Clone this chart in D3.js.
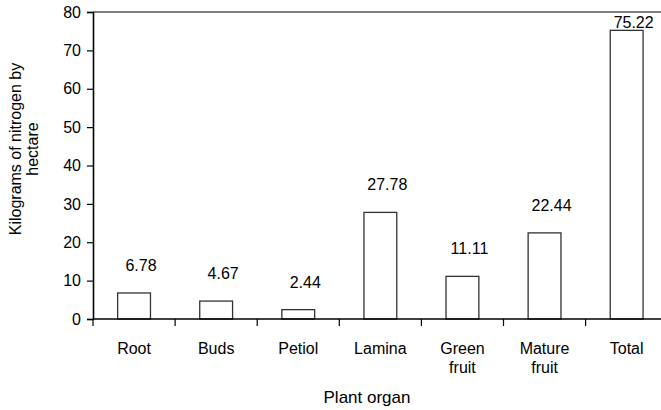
<!DOCTYPE html>
<html>
<head>
<meta charset="utf-8">
<script src="https://cdn.jsdelivr.net/npm/d3@7"></script>
<style>
  html, body { margin: 0; padding: 0; background: #fff; }
  svg { display: block; font-family: Arial, "Liberation Sans", sans-serif; }
</style>
</head>
<body>
<svg id="chart" width="661" height="410"></svg>
<script>
const categories = ["Root", "Buds", "Petiol", "Lamina", "Green fruit", "Mature fruit", "Total"];
const categoryLines = [["Root"], ["Buds"], ["Petiol"], ["Lamina"], ["Green", "fruit"], ["Mature", "fruit"], ["Total"]];
const values = [6.78, 4.67, 2.44, 27.78, 11.11, 22.44, 75.22];
const valueLabels = ["6.78", "4.67", "2.44", "27.78", "11.11", "22.44", "75.22"];
const yTicks = [0, 10, 20, 30, 40, 50, 60, 70, 80];
const yTitle = ["Kilograms of nitrogen by", "hectare"];
const xTitle = "Plant organ";

const svg = d3.select("#chart");
const mLeft = 93, mTop = 12, mBottom = 319, mRight = 667.7;
const fs = 16;

const x = d3.scaleBand().domain(categories).range([mLeft, mRight]).padding(0);
const y = d3.scaleLinear().domain([0, 80]).range([mBottom, mTop]);
const bw = x.bandwidth();

// top border line
svg.append("line")
  .attr("x1", mLeft).attr("x2", mRight)
  .attr("y1", y(80)).attr("y2", y(80))
  .attr("stroke", "#000").attr("stroke-width", 1);

// bars
svg.selectAll("rect.bar").data(values).join("rect")
  .attr("class", "bar")
  .attr("x", (d, i) => x(categories[i]) + bw * 0.3)
  .attr("width", bw * 0.4)
  .attr("y", d => y(d))
  .attr("height", d => y(0) - y(d))
  .attr("fill", "#fff")
  .attr("stroke", "#333")
  .attr("stroke-width", 1.3);

// value labels
svg.selectAll("text.val").data(values).join("text")
  .attr("class", "val")
  .attr("x", (d, i) => x(categories[i]) + bw / 2 + 7)
  .attr("y", d => Math.max(y(d) - 28, 22) + 6)
  .attr("text-anchor", "middle")
  .attr("font-size", fs)
  .attr("fill", "#000")
  .text((d, i) => valueLabels[i]);

// y axis
const yAxis = d3.axisLeft(y).tickValues(yTicks).tickSize(6).tickPadding(6).tickFormat(d3.format("d"));
const gy = svg.append("g").attr("transform", `translate(${mLeft},0)`).call(yAxis);
gy.select(".domain").attr("stroke", "#000").attr("stroke-width", 1.6);
gy.selectAll(".tick line").attr("stroke", "#000").attr("stroke-width", 1.2);
gy.selectAll(".tick text").attr("font-size", fs).attr("font-family", "Arial, 'Liberation Sans', sans-serif").attr("fill", "#000");

// x axis line
svg.append("line")
  .attr("x1", mLeft).attr("x2", mRight)
  .attr("y1", mBottom).attr("y2", mBottom)
  .attr("stroke", "#000").attr("stroke-width", 1.6);

// x ticks at band boundaries
const boundaries = categories.map(c => x(c)).concat([x(categories[categories.length - 1]) + bw]);
svg.selectAll("line.xt").data(boundaries).join("line")
  .attr("class", "xt")
  .attr("x1", d => d).attr("x2", d => d)
  .attr("y1", mBottom).attr("y2", mBottom + 7)
  .attr("stroke", "#000").attr("stroke-width", 1.2);

// category labels
categories.forEach((c, i) => {
  const t = svg.append("text")
    .attr("x", x(c) + bw / 2)
    .attr("y", 354)
    .attr("text-anchor", "middle")
    .attr("font-size", fs)
    .attr("fill", "#000");
  categoryLines[i].forEach((ln, j) => {
    t.append("tspan").attr("x", x(c) + bw / 2).attr("dy", j === 0 ? 0 : 18.5).text(ln);
  });
});

// x title
svg.append("text")
  .attr("x", 367).attr("y", 403)
  .attr("text-anchor", "middle")
  .attr("font-size", 17)
  .attr("fill", "#000")
  .text(xTitle);

// y title
const yt = svg.append("text")
  .attr("transform", "translate(21,149) rotate(-90)")
  .attr("text-anchor", "middle")
  .attr("font-size", 16)
  .attr("fill", "#000");
yTitle.forEach((ln, j) => {
  yt.append("tspan").attr("x", 0).attr("dy", j === 0 ? 0 : 17).text(ln);
});
</script>
</body>
</html>
